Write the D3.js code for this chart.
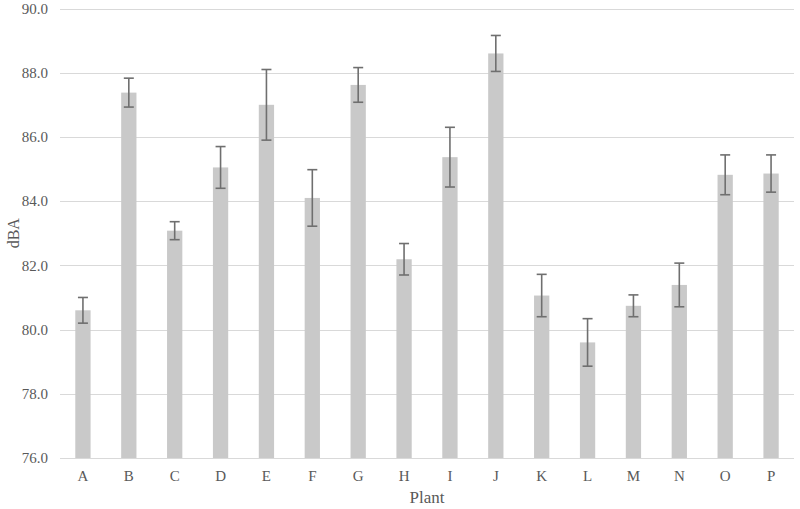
<!DOCTYPE html>
<html>
<head>
<meta charset="utf-8">
<script src="https://cdn.jsdelivr.net/npm/d3@7"></script>
<style>
  html, body { margin: 0; padding: 0; background: #fff; }
  svg { display: block; }
</style>
</head>
<body>
<svg id="chart" width="800" height="509"></svg>
<script>
const categories = ["A","B","C","D","E","F","G","H","I","J","K","L","M","N","O","P"];
const values = [80.6, 87.38, 83.08, 85.05, 87.0, 84.1, 87.62, 82.19, 85.37, 88.6, 81.06, 79.6, 80.74, 81.39, 84.82, 84.86];
const errors = [0.4, 0.45, 0.28, 0.65, 1.1, 0.88, 0.54, 0.49, 0.93, 0.56, 0.66, 0.74, 0.34, 0.68, 0.62, 0.58];
const yTicks = [76, 78, 80, 82, 84, 86, 88, 90];
const xTitle = "Plant";
const yTitle = "dBA";

(function () {
const svg = d3.select("#chart");
const mLeft = 60, mRight = 794, mTop = 8.5, mBottom = 458;
const FONT = "Liberation Serif";
const TC = "#595959";

const x = d3.scaleBand().domain(categories).range([mLeft, mRight]).paddingInner(0).paddingOuter(0);
const y = d3.scaleLinear().domain([76, 90]).range([mBottom, mTop]);

// gridlines
svg.append("g").selectAll("line").data(yTicks).join("line")
  .attr("x1", mLeft).attr("x2", mRight)
  .attr("y1", d => Math.round(y(d)) + 0.5).attr("y2", d => Math.round(y(d)) + 0.5)
  .attr("stroke", "#d9d9d9").attr("stroke-width", 1.2);

// y axis labels
const fmt = d3.format(".1f");
svg.append("g").attr("font-family", FONT).attr("font-size", 15).attr("fill", TC)
  .selectAll("text").data(yTicks).join("text")
  .attr("x", 48).attr("y", d => y(d)).attr("dy", "0.35em")
  .attr("text-anchor", "end").text(d => fmt(d));

// bars
const bw = x.bandwidth() / 3;
svg.append("g").selectAll("rect").data(categories).join("rect")
  .attr("x", (d) => x(d) + x.bandwidth() / 2 - bw / 2)
  .attr("width", bw)
  .attr("y", (d, i) => y(values[i]))
  .attr("height", (d, i) => y(76) - y(values[i]))
  .attr("fill", "#c9c9c9");

// error bars
const eg = svg.append("g").attr("stroke", "#6f6f6f").attr("stroke-width", 1.6).attr("fill", "none");
categories.forEach((c, i) => {
  const cx = x(c) + x.bandwidth() / 2;
  const y1 = y(values[i] + errors[i]), y2 = y(values[i] - errors[i]);
  eg.append("line").attr("x1", cx).attr("x2", cx).attr("y1", y1).attr("y2", y2);
  eg.append("line").attr("x1", cx - 5).attr("x2", cx + 5).attr("y1", y1).attr("y2", y1);
  eg.append("line").attr("x1", cx - 5).attr("x2", cx + 5).attr("y1", y2).attr("y2", y2);
});

// x axis labels
svg.append("g").attr("font-family", FONT).attr("font-size", 15).attr("fill", TC)
  .selectAll("text").data(categories).join("text")
  .attr("x", d => x(d) + x.bandwidth() / 2).attr("y", mBottom + 23)
  .attr("text-anchor", "middle").text(d => d);

// titles
svg.append("text").attr("x", (mLeft + mRight) / 2).attr("y", 503)
  .attr("text-anchor", "middle").attr("font-family", FONT).attr("font-size", 17).attr("fill", TC)
  .text(xTitle);
svg.append("text").attr("transform", `translate(19,${(mTop + mBottom) / 2}) rotate(-90)`)
  .attr("text-anchor", "middle").attr("font-family", FONT).attr("font-size", 16).attr("fill", TC)
  .text(yTitle);
})();
</script>
</body>
</html>
